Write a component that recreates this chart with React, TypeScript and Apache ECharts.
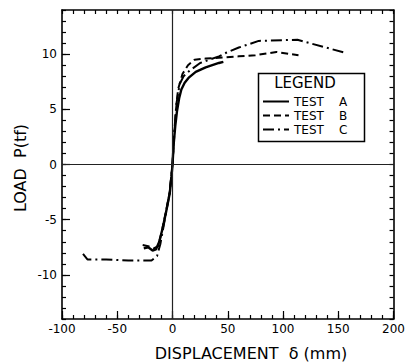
import React, { useEffect, useRef } from "react";
import * as echarts from "echarts";

const xTickValues = [-100, -50, 0, 50, 100, 150, 200];
const yTickValues = [-10, -5, 0, 5, 10];
const seriesNames = ["TEST    A", "TEST    B", "TEST    C"];

const testA: [number, number][] = [
  [-26, -7.6], [-22, -7.5], [-18, -7.8], [-15, -7.7], [-12, -7.0], [-9, -5.8],
  [-6, -4.4], [-2.5, -2.6], [-1, -1.2], [0, 0], [1, 1.8], [2.5, 3.5], [4, 4.8],
  [6, 6.0], [8, 6.8], [11, 7.4], [15, 7.9], [21, 8.4], [30, 8.8], [42, 9.2], [46, 9.3],
];

const testB: [number, number][] = [
  [-27, -7.3], [-22, -7.4], [-17, -7.6], [-13, -7.4], [-10, -6.2], [-6, -4.3],
  [-2.5, -2.5], [0, 0], [1.5, 2.5], [3, 4.8], [5, 6.8], [9, 8.2], [14, 9.0],
  [20, 9.5], [30, 9.6], [45, 9.7], [60, 9.8], [75, 9.9], [94, 10.2], [114, 9.9],
];

const testC: [number, number][] = [
  [-81, -8.1], [-77, -8.6], [-60, -8.6], [-40, -8.7], [-19, -8.7], [-14, -8.3],
  [-11, -7.2], [-7, -5.0], [-3, -2.8], [0, 0], [1.5, 2.8], [3.5, 5.5], [6.5, 7.3],
  [10, 8.0], [15.5, 8.5], [25, 9.2], [42, 9.8], [49, 10.15], [60, 10.6], [78, 11.2],
  [113, 11.3], [157, 10.1],
];

const FONT = "'DejaVu Sans', sans-serif";

export default function App() {
  const ref = useRef<HTMLDivElement>(null);
  useEffect(() => {
    if (!ref.current) return;
    const chart = echarts.init(ref.current, null, { renderer: "svg" });
    const black = "#000";
    const xBase = { type: "value", min: -100, max: 200, splitLine: { show: false } };
    const yBase = { type: "value", min: -14, max: 14, splitLine: { show: false } };
    const shortTick = { show: true, inside: true, length: 4, lineStyle: { color: black, width: 1.2 } };
    const lineStyleAxis = { color: black, width: 1.6 };
    chart.setOption({
      animation: false,
      backgroundColor: "#fff",
      grid: { left: 62, right: 9, top: 10, bottom: 45, containLabel: false },
      xAxis: [
        {
          ...xBase, position: "bottom", interval: 10,
          axisLine: { show: true, onZero: false, lineStyle: lineStyleAxis },
          axisTick: shortTick,
          axisLabel: {
            interval: 0, margin: 4, color: black, fontSize: 12, fontFamily: FONT,
            formatter: (v: number) => (xTickValues.includes(v) ? String(v) : ""),
          },
        },
        {
          ...xBase, position: "bottom",
          axisLine: { show: false, onZero: false },
          axisTick: { show: true, inside: true, length: 8, customValues: xTickValues, lineStyle: { color: black, width: 1.2 } },
          axisLabel: { show: false },
        },
        {
          ...xBase, position: "top", interval: 10,
          axisLine: { show: true, onZero: false, lineStyle: lineStyleAxis },
          axisTick: shortTick,
          axisLabel: { show: false },
        },
      ],
      yAxis: [
        {
          ...yBase, position: "left", interval: 1,
          axisLine: { show: true, onZero: false, lineStyle: lineStyleAxis },
          axisTick: shortTick,
          axisLabel: {
            interval: 0, margin: 5, color: black, fontSize: 12, fontFamily: FONT,
            formatter: (v: number) => (yTickValues.includes(v) ? String(v) : ""),
          },
        },
        {
          ...yBase, position: "left",
          axisLine: { show: false, onZero: false },
          axisTick: { show: true, inside: true, length: 8, customValues: yTickValues, lineStyle: { color: black, width: 1.2 } },
          axisLabel: { show: false },
        },
        {
          ...yBase, position: "right", interval: 1,
          axisLine: { show: true, onZero: false, lineStyle: lineStyleAxis },
          axisTick: shortTick,
          axisLabel: { show: false },
        },
      ],
      legend: {
        orient: "vertical",
        left: 262,
        top: 95,
        itemWidth: 26,
        itemHeight: 13,
        itemGap: 1,
        padding: 0,
        itemStyle: { opacity: 0 },
        textStyle: { color: black, fontSize: 12, fontFamily: FONT, lineHeight: 13 },
        data: seriesNames,
      },
      series: [
        {
          name: seriesNames[0], type: "line", data: testA, showSymbol: false, symbol: "none",
          lineStyle: { color: black, width: 2.4, type: "solid" }, itemStyle: { color: black },
          markLine: {
            silent: true, symbol: ["none", "none"], label: { show: false },
            lineStyle: { color: "#222", width: 1.2, type: "solid" },
            data: [{ xAxis: 0 }, { yAxis: 0 }],
          },
        },
        {
          name: seriesNames[1], type: "line", data: testB, showSymbol: false, symbol: "none",
          lineStyle: { color: black, width: 2, type: [7, 4] }, itemStyle: { color: black },
        },
        {
          name: seriesNames[2], type: "line", data: testC, showSymbol: false, symbol: "none",
          lineStyle: { color: black, width: 2, type: [11, 4, 2, 4] }, itemStyle: { color: black },
        },
      ],
      graphic: [
        {
          type: "rect", left: 256, top: 71, shape: { width: 106, height: 68 },
          style: { fill: "none", stroke: black, lineWidth: 1.5 }, z: 10,
        },
        {
          type: "text", x: 305, y: 83,
          style: { text: "LEGEND", fill: black, font: `15px ${FONT}`, textAlign: "center", textVerticalAlign: "middle" }, z: 10,
        },
        {
          type: "text", x: 20, y: 168, rotation: Math.PI / 2,
          style: { text: "LOAD  P(tf)", fill: black, font: `16px ${FONT}`, textAlign: "center", textVerticalAlign: "middle" },
        },
        {
          type: "text", x: 251, y: 353,
          style: { text: "DISPLACEMENT  δ (mm)", fill: black, font: `16px ${FONT}`, textAlign: "center", textVerticalAlign: "middle" },
        },
      ],
    });
    return () => chart.dispose();
  }, []);
  return <div ref={ref} style={{ width: 408, height: 364, position: "absolute", left: 0, top: 0 }} />;
}
